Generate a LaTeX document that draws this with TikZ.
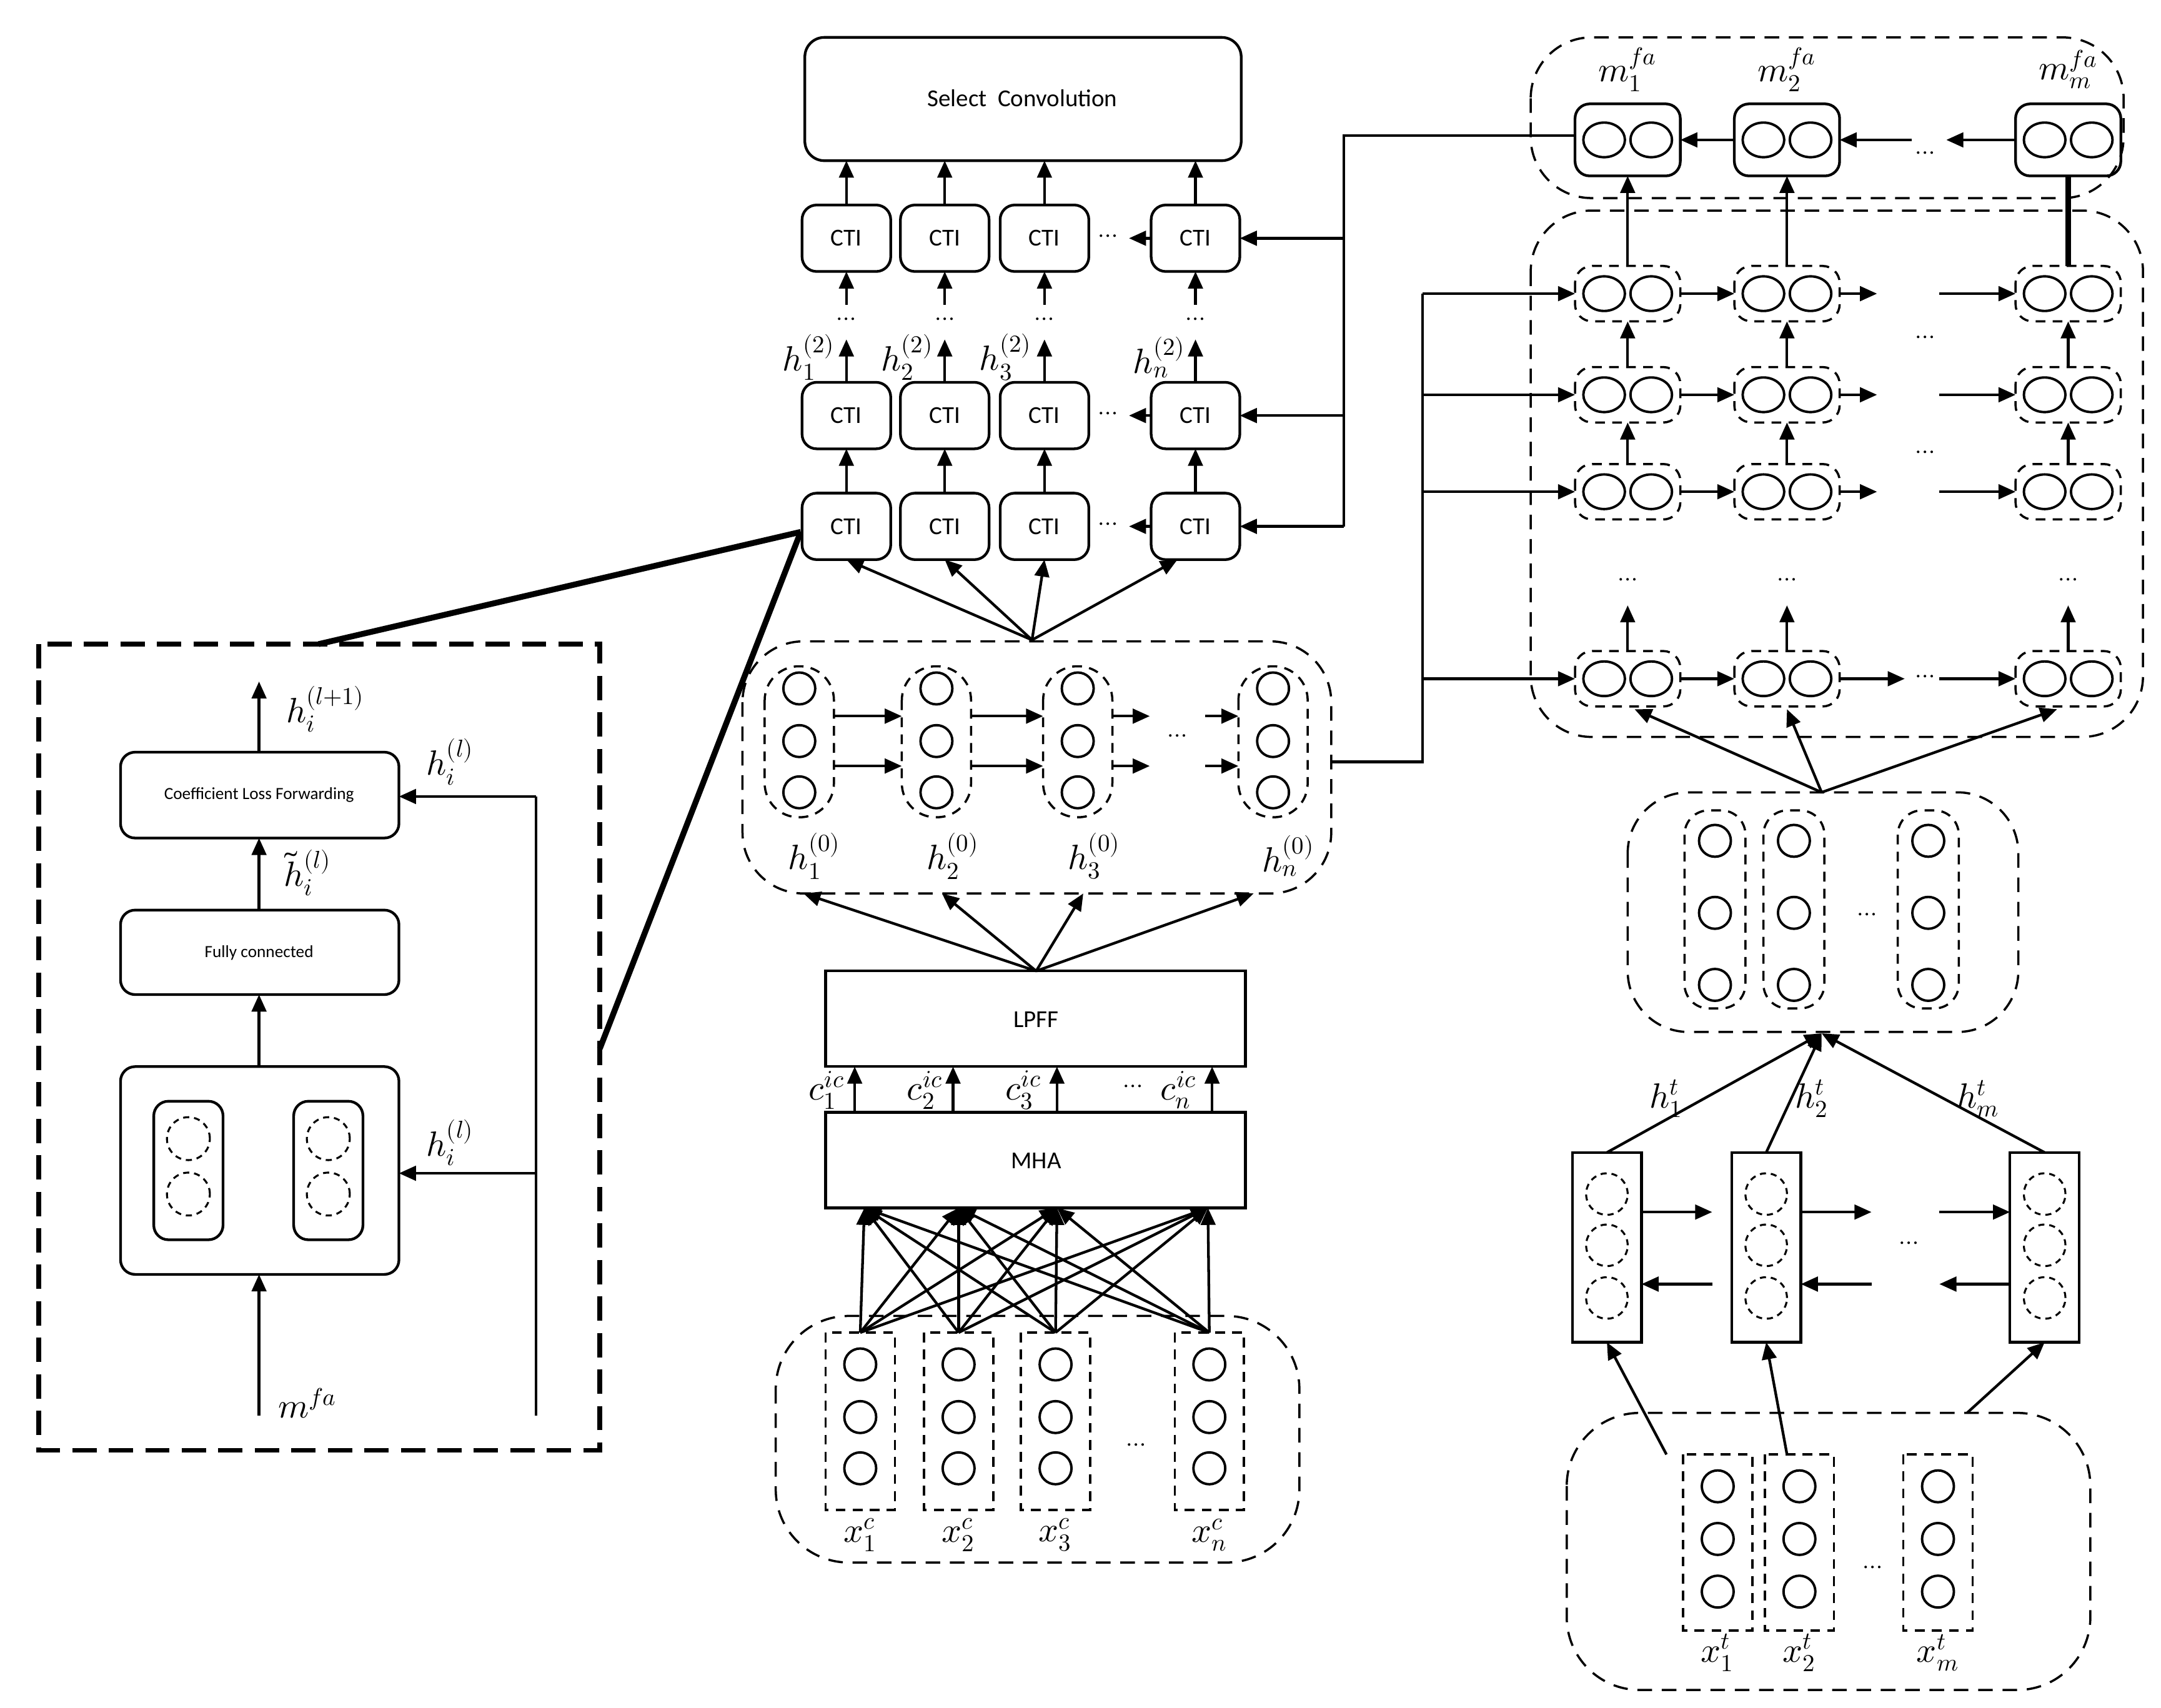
\documentclass[tikz,border=0pt]{standalone}
\usepackage{fontspec}
\setmainfont{Carlito}
\usepackage{unicode-math}
\setmathfont{Latin Modern Math}
\usetikzlibrary{arrows.meta,shapes.geometric}
\begin{document}
\begin{tikzpicture}[x=0.02cm,y=-0.02cm,
  ar/.style={-{Triangle[length=7pt,width=6pt]},line width=1.1pt},
  ln/.style={line width=1.1pt},
  rb/.style={draw,line width=1.1pt,rounded corners=6pt},
  db/.style={draw,line width=0.9pt,dashed,dash pattern=on 6pt off 4pt,rounded corners=14pt},
  dc/.style={draw,line width=0.9pt,dashed,dash pattern=on 4pt off 3pt,rounded corners=7pt},
  cir/.style={draw,line width=1pt,circle,minimum size=0.46cm,inner sep=0pt},
  ell/.style={draw,line width=1pt,ellipse,minimum width=0.6cm,minimum height=0.5cm,inner sep=0pt},
  dcir/.style={draw,line width=0.8pt,dashed,dash pattern=on 2.5pt off 2pt,circle,minimum size=0.62cm,inner sep=0pt},
  lab/.style={font=\Large},
  dots/.style={font=\normalsize}]
\useasboundingbox (0,0) rectangle (1560,1233);
% ---------- Left panel
\draw[line width=2pt,dash pattern=on 10pt off 5pt] (28,465) rectangle (433,1047);
\draw[rb] (87,543) rectangle (288,605); \node[font=\scriptsize] (clf) at (187,574) {Coefficient Loss Forwarding};
\draw[rb] (87,657) rectangle (288,718); \node[font=\scriptsize] (fc) at (187,688) {Fully connected};
\draw[rb] (87,770) rectangle (288,920);
\foreach \x in {136,237}{\draw[rb] (\x-25,795) rectangle (\x+25,895);
  \node[dcir] at (\x,822){}; \node[dcir] at (\x,862){};}
\draw[ar] (187,1022) -- (187,920); \node[lab] at (222,1013) {$m^{fa}$};
\draw[ar] (187,770) -- (187,718);
\draw[ar] (187,657) -- (187,605); \node[lab] at (222,630) {$\tilde h_i^{(l)}$};
\draw[ar] (187,543) -- (187,492); \node[lab] at (235,512) {$h_i^{(l+1)}$};
\draw[ln] (387,1022) -- (387,575); \draw[ar] (387,575) -- (288,575); \node[lab] at (325,550) {$h_i^{(l)}$};
\draw[ar] (387,847) -- (288,847); \node[lab] at (325,825) {$h_i^{(l)}$};
\draw[line width=2.4pt] (230,465) -- (578,384);
\draw[line width=2.4pt] (433,757) -- (578,384);
% ---------- Middle top
\draw[rb,rounded corners=8pt] (581,27) rectangle (896,116); \node (sc) at (738,71) {Select\ \ Convolution};
\foreach \y in {172,300,380}{
 \foreach \x in {611,682,754,863}{\draw[rb] (\x-32,\y-24) rectangle (\x+32,\y+24); \node at (\x,\y) {CTI};}
 \node[dots] at (800,\y) {$\cdots$};
 \draw[ar] (831,\y) -- (815,\y);
 \draw[ar] (970,\y) -- (895,\y);}
\draw[ln] (1137,98) -- (970,98) -- (970,380);
\foreach \x in {611,682,754,863}{
 \draw[ar] (\x,148) -- (\x,116);
 \draw[ar] (\x,220) -- (\x,196);
 \node[dots] at (\x,232) {$\cdots$};
 \draw[ar] (\x,276) -- (\x,245);
 \draw[ar] (\x,356) -- (\x,324);}
\node[lab] at (584,258) {$h_1^{(2)}$};\node[lab] at (655,258) {$h_2^{(2)}$};
\node[lab] at (726,258) {$h_3^{(2)}$};\node[lab] at (837,258) {$h_n^{(2)}$};
\foreach \x in {611,682,754,850}{\draw[ar] (745,462) -- (\x,404);}
% h0 block
\draw[db,rounded corners=25pt] (536,463) rectangle (961,645);
\foreach \x in {577,676,778,919}{\draw[dc,rounded corners=14pt] (\x-25,481) rectangle (\x+25,590);
 \foreach \y in {497,535,572}{\node[cir] at (\x,\y){};}}
\foreach \y in {517,553}{\draw[ar](602,\y)--(651,\y); \draw[ar](701,\y)--(753,\y);
 \draw[ar](803,\y)--(830,\y); \draw[ar](870,\y)--(894,\y);}
\node[dots] at (850,533) {$\cdots$};
\node[lab] at (588,618) {$h_1^{(0)}$};\node[lab] at (688,618) {$h_2^{(0)}$};
\node[lab] at (790,618) {$h_3^{(0)}$};\node[lab] at (930,618) {$h_n^{(0)}$};
\draw[ln] (961,550) -- (1027,550) -- (1027,212);
\foreach \y in {212,285,355,490}{\draw[ar] (1027,\y) -- (1137,\y);}
% LPFF MHA
\draw[ln] (596,701) rectangle (899,770); \node (lpff) at (748,736) {LPFF};
\draw[ln] (596,803) rectangle (899,872); \node (mha) at (748,838) {MHA};
\foreach \x in {580,680,782,905}{\draw[ar] (748,701) -- (\x,645);}
\foreach \x/\i in {617/1,688/2,763/3,875/n}{\draw[ar] (\x,803) -- (\x,770);}
\node[lab] at (597,787) {$c_1^{ic}$};\node[lab] at (668,787) {$c_2^{ic}$};
\node[lab] at (739,787) {$c_3^{ic}$};\node[lab] at (851,787) {$c_n^{ic}$};
\node[dots] at (818,786) {$\cdots$};
% input block
\draw[db,rounded corners=30pt] (560,950) rectangle (938,1128);
\foreach \x/\i in {621/1,692/2,762/3,873/n}{\draw[dc,rounded corners=0pt] (\x-25,962) rectangle (\x+25,1090);
 \foreach \y in {985,1023,1060}{\node[cir] at (\x,\y){};}
 \node[lab] at (\x,1108) {$x_\i^c$};
 \foreach \t in {624,692,763,872}{\draw[ar] (\x,962) -- (\t,872);}}
\node[dots] at (820,1045) {$\cdots$};
% ---------- Right
\draw[db,rounded corners=25pt] (1105,27) rectangle (1533,143);
\foreach \x/\i in {1175/1,1290/2,1493/m}{\draw[rb] (\x-38,75) rectangle (\x+38,127);
 \node[ell] at (\x-17,101){}; \node[ell] at (\x+17,101){};
 \node[lab] at (\x,50) {$m_\i^{fa}$};}
\draw[ar] (1252,101) -- (1213,101);
\draw[ar] (1380,101) -- (1328,101);
\node[dots] at (1390,112) {$\cdots$};
\draw[ar] (1455,101) -- (1405,101);
\draw[db,rounded corners=25pt] (1105,152) rectangle (1547,532);
\foreach \y in {212,285,355,490}{
 \foreach \x in {1175,1290,1493}{\draw[dc] (\x-38,\y-20) rectangle (\x+38,\y+20);
  \node[ell] at (\x-17,\y){}; \node[ell] at (\x+17,\y){};}
 \draw[ar] (1213,\y) -- (1252,\y);
 \draw[ar] (1400,\y) -- (1455,\y);}
\foreach \y in {212,285,355}{\draw[ar] (1328,\y) -- (1355,\y);}
\draw[ar] (1328,490) -- (1375,490);
\node[dots] at (1390,490) {$\cdots$};
\foreach \y in {245,328}{\node[dots] at (1390,\y) {$\cdots$};}
\foreach \x in {1175,1290,1493}{
 \draw[ar] (\x,265) -- (\x,232); \draw[ar] (\x,335) -- (\x,305);
 \node[dots] at (\x,420) {$\cdots$}; \draw[ar] (\x,470) -- (\x,437);}
\draw[ar] (1175,192) -- (1175,127); \draw[ar] (1290,192) -- (1290,127);
\draw[line width=2.4pt] (1493,192) -- (1493,127);
% middle right block
\draw[db,rounded corners=25pt] (1175,572) rectangle (1457,745);
\foreach \x in {1238,1295,1392}{\draw[dc,rounded corners=10pt] (\x-22,585) rectangle (\x+22,728);
 \foreach \y in {607,659,711}{\node[cir] at (\x,\y){};}}
\node[dots] at (1348,662) {$\cdots$};
\foreach \x in {1180,1290,1485}{\draw[ar] (1315,572) -- (\x,512);}
% BiLSTM
\foreach \x in {1160,1275,1476}{\draw[line width=1.1pt] (\x-25,832) rectangle (\x+25,969);
 \foreach \y in {862,899,937}{\node[dcir,minimum size=0.6cm] at (\x,\y){};}
 \draw[ar] (\x,832) -- (1315,746);}
\draw[ar] (1185,875) -- (1236,875); \draw[ar] (1300,875) -- (1351,875); \draw[ar] (1400,875) -- (1451,875);
\draw[ar] (1236,927) -- (1185,927); \draw[ar] (1351,927) -- (1300,927); \draw[ar] (1451,927) -- (1400,927);
\node[dots] at (1378,899) {$\cdots$};
\node[lab] at (1203,793) {$h_1^t$};\node[lab] at (1308,793) {$h_2^t$};\node[lab] at (1428,793) {$h_m^t$};
% bottom right
\draw[db,rounded corners=30pt] (1131,1020) rectangle (1509,1220);
\foreach \x/\i in {1240/1,1299/2,1399/m}{\draw[dc,rounded corners=0pt] (\x-25,1050) rectangle (\x+25,1177);
 \foreach \y in {1073,1111,1149}{\node[cir] at (\x,\y){};}
 \node[lab] at (\x,1193) {$x_\i^t$};}
\node[dots] at (1352,1133) {$\cdots$};
\draw[ar] (1203,1050) -- (1160,969);
\draw[ar] (1290,1050) -- (1275,969);
\draw[ar] (1420,1020) -- (1476,969);
\end{tikzpicture}
\end{document}
